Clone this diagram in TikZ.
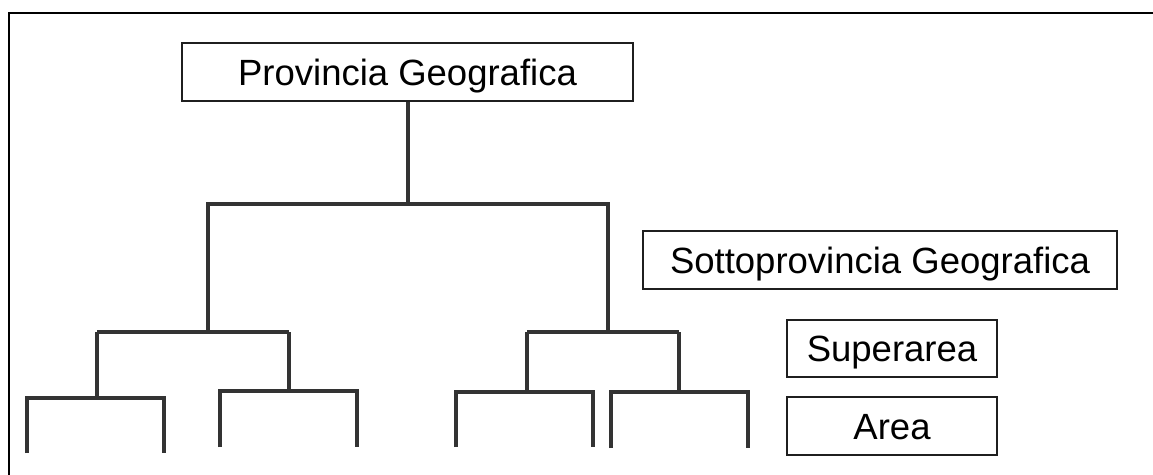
\documentclass[tikz,border=0pt]{standalone}
\usepackage{fontspec}
\setmainfont{Liberation Sans}
\begin{document}
\begin{tikzpicture}[x=1pt,y=-1pt,
  levelbox/.style={draw=black!88,line width=1.8pt,fill=white,inner sep=0pt,
    text height=26pt,text depth=0pt,font=\fontsize{36.5}{40}\selectfont},
  branch/.style={draw=black!80,line width=3.4pt}]
  \useasboundingbox (0,0) rectangle (1153,474);
  \fill[white] (0,0) rectangle (1153,474);
  % outer frame
  \draw[line width=2.8pt] (9,13) rectangle (1170,490);

  % level labels
  \node[levelbox,minimum width=451pt,minimum height=58pt] (prov) at (407.5,72) {Provincia Geografica};
  \node[levelbox,minimum width=474pt,minimum height=58pt] (sotto) at (880,260) {Sottoprovincia Geografica};
  \node[levelbox,minimum width=210pt,minimum height=57pt] (super) at (892,348.5) {Superarea};
  \node[levelbox,minimum width=210pt,minimum height=58pt] (area) at (892,426) {Area};

  % junctions of the tree
  \coordinate (j0) at (408,204);
  \coordinate (s1) at (208,204);  \coordinate (s2) at (608,204);
  \coordinate (j1) at (208,332);  \coordinate (j2) at (608,332);
  \coordinate (a1) at (97,332);   \coordinate (a2) at (289,332);
  \coordinate (a3) at (527,332);  \coordinate (a4) at (679,332);
  \coordinate (k1) at (97,398);   \coordinate (k2) at (289,391);
  \coordinate (k3) at (527,392);  \coordinate (k4) at (679,392);
  % leaf ends
  \coordinate (l1) at (27,453);   \coordinate (l2) at (164,453);
  \coordinate (l3) at (220,447);  \coordinate (l4) at (357,447);
  \coordinate (l5) at (456,447);  \coordinate (l6) at (593,447);
  \coordinate (l7) at (611,448);  \coordinate (l8) at (748,448);

  % provincia -> sottoprovince
  \draw[branch] (prov.south -| j0) -- (j0);
  \draw[branch] (j1) |- (j0) -| (j2);
  % sottoprovince -> superaree
  \draw[branch] (a1) -- (a2);
  \draw[branch] (a3) -- (a4);
  % superaree -> aree
  \draw[branch] (a1) -- (k1);
  \draw[branch] (a2) -- (k2);
  \draw[branch] (a3) -- (k3);
  \draw[branch] (a4) -- (k4);
  \draw[branch] (l1) |- (k1) -| (l2);
  \draw[branch] (l3) |- (k2) -| (l4);
  \draw[branch] (l5) |- (k3) -| (l6);
  \draw[branch] (l7) |- (k4) -| (l8);
\end{tikzpicture}
\end{document}
